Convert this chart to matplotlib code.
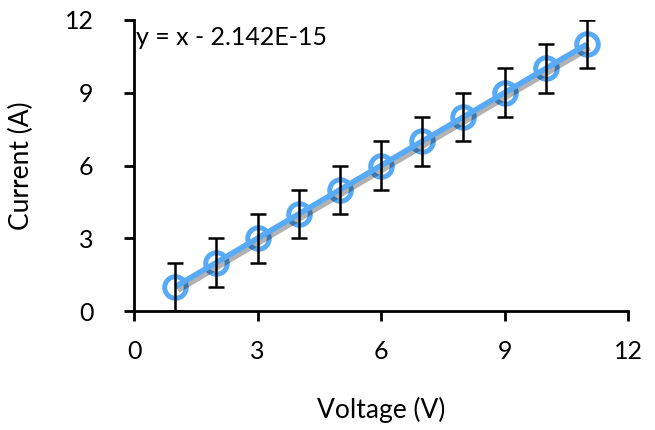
import numpy as np
import matplotlib.pyplot as plt
import matplotlib.patheffects as pe

# data
voltage = [1, 2, 3, 4, 5, 6, 7, 8, 9, 10, 11]
current = [1, 2, 3, 4, 5, 6, 7, 8, 9, 10, 11]
err = [1, 1, 1, 1, 1, 1, 1, 1, 1, 1, 1]

plt.rcParams['font.family'] = ['Lato', 'DejaVu Sans']

fig = plt.figure(figsize=(6.55, 4.3), dpi=100)
ax = fig.add_axes([0.2046, 0.2767, 0.7542, 0.6768])

blue = '#56aaf6'

# linear trendline
p = np.polyfit(voltage, current, 1)
xs = np.array([voltage[0], voltage[-1]])
ax.plot(xs, np.polyval(p, xs), color=blue, lw=4, zorder=3, solid_capstyle='butt',
        path_effects=[pe.SimpleLineShadow(offset=(2, -2.5), alpha=0.3), pe.Normal()])

ax.plot(voltage, current, 'o', ms=15.5, mfc='none', mec=blue, mew=3.6, zorder=2)
ax.errorbar(voltage, current, yerr=err, fmt='none', ecolor='black', elinewidth=1.8,
            capsize=5.5, capthick=1.8, zorder=5)

ax.text(0.05, 11.26, 'y = x - 2.142E-15', fontsize=18, va='center', ha='left')

ax.set_xlim(0, 12)
ax.set_ylim(0, 12)
ax.set_xticks([0, 3, 6, 9, 12])
ax.set_yticks([0, 3, 6, 9, 12])
ax.spines['top'].set_visible(False)
ax.spines['right'].set_visible(False)
for s in ['left', 'bottom']:
    ax.spines[s].set_linewidth(2)
ax.tick_params(direction='out', length=7, width=2, labelsize=18)
ax.tick_params(axis='x', pad=14)
ax.tick_params(axis='y', pad=22)
ax.set_xlabel('Voltage (V)', fontsize=19)
ax.set_ylabel('Current (A)', fontsize=19)
ax.xaxis.label.set_va('center')
ax.yaxis.label.set_va('center')
ax.xaxis.set_label_coords(0.5, -0.34)
ax.yaxis.set_label_coords(-0.227, 0.5)

fig.savefig('out.png', dpi=100)
